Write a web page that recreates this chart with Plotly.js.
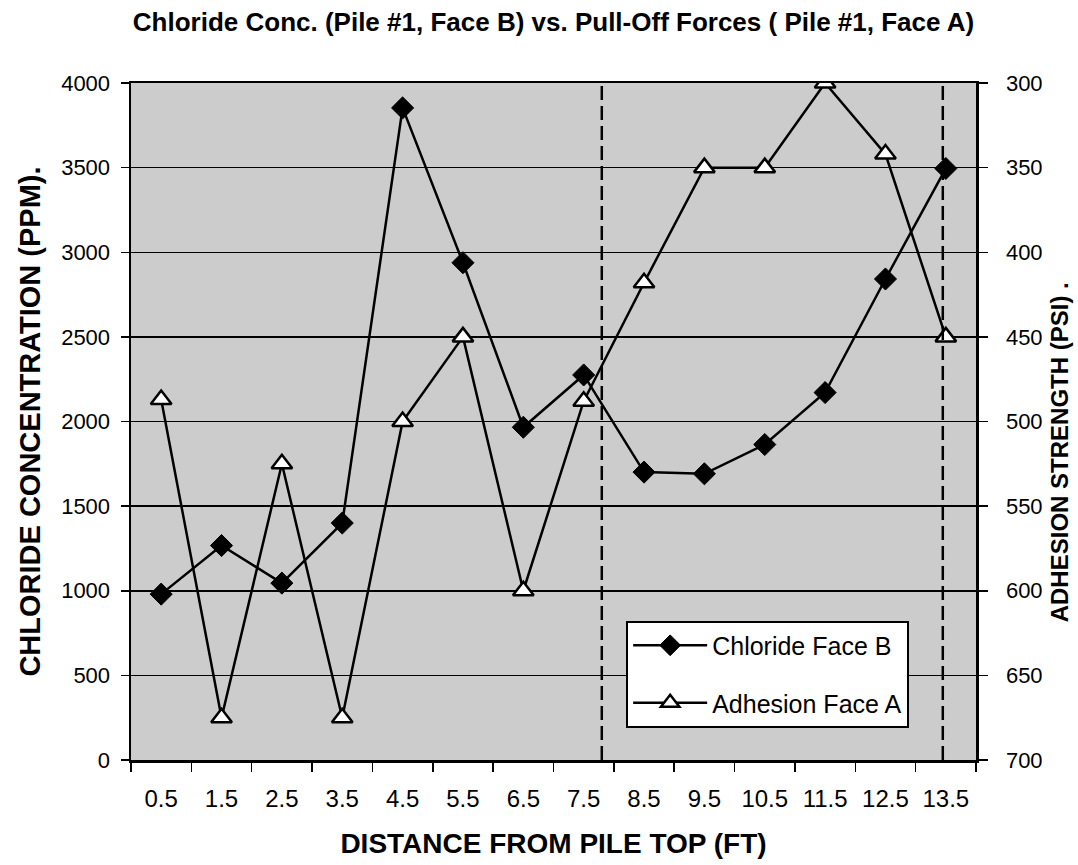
<!DOCTYPE html>
<html>
<head>
<meta charset="utf-8">
<script src="https://cdn.plot.ly/plotly-3.0.1.min.js"></script>
<style>html,body{margin:0;padding:0;background:#fff;}#chart{width:1078px;height:865px;}</style>
</head>
<body>
<div id="chart"></div>
<script>
var distances = ["0.5","1.5","2.5","3.5","4.5","5.5","6.5","7.5","8.5","9.5","10.5","11.5","12.5","13.5"];
var chlorideFaceB = [980, 1267, 1045, 1400, 3853, 2938, 1966, 2275, 1701, 1691, 1864, 2171, 2842, 3495];
var adhesionFaceA = [487, 675, 525, 675, 500, 450, 600, 488, 418, 350, 350, 300, 342, 450];
var dividerPositions = [7.3, 12.95];

var FONT = "Liberation Sans, Arial, Helvetica, sans-serif";

var traces = [
  {
    x: distances, y: chlorideFaceB, name: "Chloride Face B", type: "scatter", mode: "lines+markers",
    legendgroup: "a",
    line: {color: "#000", width: 2.5},
    marker: {symbol: "diamond", size: 17, color: "#000", line: {color: "#000", width: 1}},
    xaxis: "x", yaxis: "y"
  },
  {
    x: distances, y: adhesionFaceA, name: "Adhesion Face A", type: "scatter", mode: "lines+markers",
    legendgroup: "b",
    line: {color: "#000", width: 2.5},
    marker: {symbol: "triangle-up", size: 18, color: "#fff", line: {color: "#000", width: 2.5}},
    xaxis: "x", yaxis: "y2"
  }
];

var shapes = dividerPositions.map(function (p) {
  return {type: "line", xref: "x", yref: "paper", x0: p, x1: p, y0: 0, y1: 1,
          line: {color: "#000", width: 2.5, dash: "14px,6px"}, layer: "above"};
});

var layout = {
  width: 1078, height: 865,
  margin: {l: 131, r: 102, t: 83, b: 105},
  paper_bgcolor: "#fff",
  plot_bgcolor: "#cccccc",
  showlegend: true,
  font: {family: FONT, color: "#000"},
  title: {
    text: "<b>Chloride Conc. (Pile #1, Face B) vs. Pull-Off Forces ( Pile #1, Face A)</b>",
    font: {family: FONT, size: 26, color: "#000"},
    xref: "paper", x: 0.5, xanchor: "center", y: 0.975, yanchor: "middle"
  },
  xaxis: {
    type: "category", range: [-0.5, 13.5],
    tickson: "boundaries", ticks: "outside", ticklen: 9, tickwidth: 1.5, tickcolor: "#000",
    showgrid: false, zeroline: false,
    showline: true, linecolor: "#000", linewidth: 2.5, mirror: true,
    tickfont: {family: FONT, size: 24, color: "#000"},
    ticklabelstandoff: 16,
    title: {text: "<b>DISTANCE FROM PILE TOP (FT)</b>", font: {family: FONT, size: 28, color: "#000"}, standoff: 22}
  },
  yaxis: {
    range: [0, 4000], dtick: 500, tick0: 0,
    ticks: "outside", ticklen: 8, tickwidth: 1.5, tickcolor: "#000",
    showgrid: true, gridcolor: "#000", gridwidth: 1.5, zeroline: false,
    showline: true, linecolor: "#000", linewidth: 2.5, mirror: false,
    tickfont: {family: FONT, size: 22, color: "#000"},
    ticklabelstandoff: 6,
    title: {text: "<b>CHLORIDE CONCENTRATION (PPM).</b>", font: {family: FONT, size: 29, color: "#000"}, standoff: 12}
  },
  yaxis2: {
    overlaying: "y", side: "right", range: [700, 300], dtick: 50, tick0: 300,
    ticks: "outside", ticklen: 9, tickwidth: 1.5, tickcolor: "#000",
    showgrid: false, zeroline: false,
    showline: true, linecolor: "#000", linewidth: 2.5,
    tickfont: {family: FONT, size: 22, color: "#000"},
    ticklabelstandoff: 14
  },
  annotations: [{
    text: "<b>ADHESION STRENGTH (PSI) .</b>",
    xref: "paper", yref: "paper", x: 1.099, y: 0.454, xanchor: "center", yanchor: "middle",
    textangle: -90, showarrow: false, borderpad: 0,
    font: {family: FONT, size: 24, color: "#000"}
  }],
  legend: {
    x: 0.586, y: 0.206, xanchor: "left", yanchor: "top",
    bgcolor: "#fff", bordercolor: "#000", borderwidth: 2,
    font: {family: FONT, size: 25, color: "#000"},
    traceorder: "grouped", tracegroupgap: 22,
    itemwidth: 74
  },
  shapes: shapes
};

Plotly.newPlot("chart", traces, layout, {displayModeBar: false, staticPlot: true});
</script>
</body>
</html>
